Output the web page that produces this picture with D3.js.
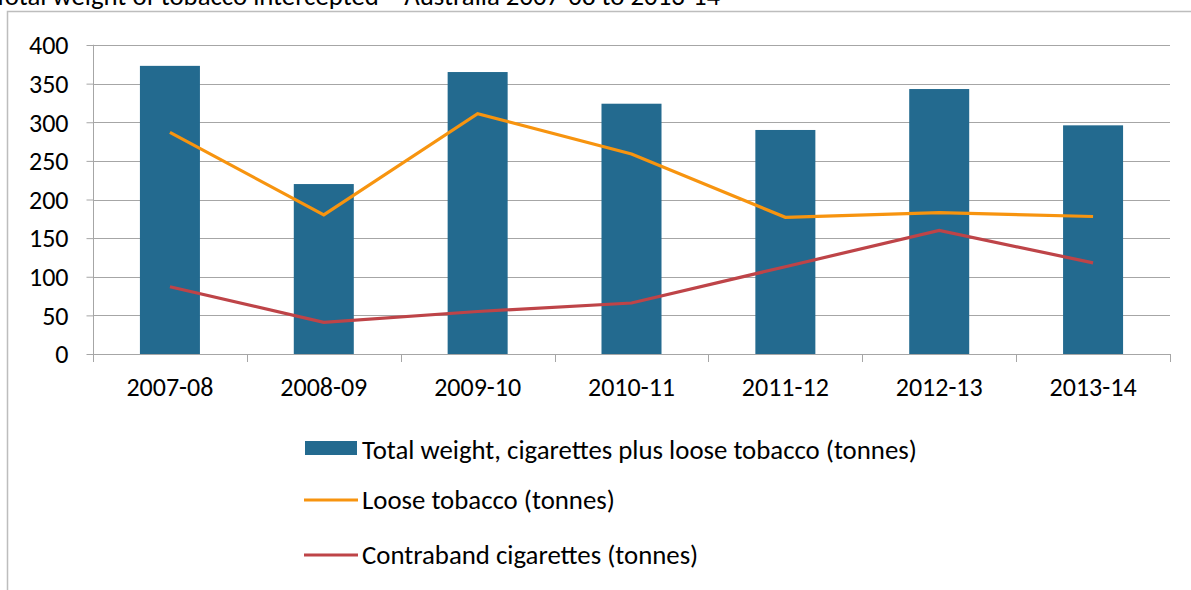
<!DOCTYPE html>
<html><head><meta charset="utf-8">
<script src="https://cdn.jsdelivr.net/npm/d3@7"></script>
<style>body{margin:0;background:#fff;} svg{display:block;} text{font-family:Carlito,"Open Sans","Noto Sans",sans-serif;}</style>
</head><body><svg id="c" width="1191" height="590"></svg>
<script>
const categories = ["2007-08","2008-09","2009-10","2010-11","2011-12","2012-13","2013-14"];
const totalWeight = [373, 220, 365, 324, 290, 343, 296];
const looseTobacco = [287, 180, 311, 259, 177, 183, 178];
const contraband = [87, 41, 55, 66, 113, 160, 118];
const yTicks = [0,50,100,150,200,250,300,350,400];
const seriesNames = ["Total weight, cigarettes plus loose tobacco (tonnes)","Loose tobacco (tonnes)","Contraband cigarettes (tonnes)"];
const colors = {bar:"#236a8f", loose:"#f7940f", contra:"#be4448"};
const FS = 26, FL = 26.8;

const svg = d3.select("#c");
const m = {l:93, r:1170, t:45, b:354};
const x = d3.scaleBand().domain(categories).range([m.l, m.r]).paddingInner(0.61).paddingOuter(0.305);
const xb = d3.scaleBand().domain(categories).range([m.l, m.r]);
const y = d3.scaleLinear().domain([0,400]).range([m.b, m.t]);

// frame
svg.append("path").attr("d",`M7.5,600V11.5H1200`).attr("fill","none").attr("stroke","#bdbdbd").attr("stroke-width",1.5);
// title (clipped by the top edge, as in the reference)
svg.append("text").attr("x",-6).attr("y",5).attr("font-size",FL).attr("fill","#000")
  .text("Total weight of tobacco intercepted – Australia 2007-08 to 2013-14");

// grid
svg.append("g").selectAll("line").data(yTicks.filter(d=>d>0)).join("line")
  .attr("x1",m.l).attr("x2",m.r).attr("y1",d=>Math.round(y(d))+0.5).attr("y2",d=>Math.round(y(d))+0.5)
  .attr("stroke","#a6a6a6").attr("stroke-width",1);

// bars
svg.append("g").selectAll("rect").data(categories).join("rect")
  .attr("x",d=>x(d)).attr("width",x.bandwidth())
  .attr("y",(d,i)=>y(totalWeight[i])).attr("height",(d,i)=>y(0)-y(totalWeight[i]))
  .attr("fill",colors.bar);

// y axis
const ya = svg.append("g").attr("transform",`translate(${m.l+0.5},0)`)
  .call(d3.axisLeft(y).tickValues(yTicks).tickSize(7).tickPadding(18));
ya.attr("font-family",null).attr("font-size",null);
ya.select(".domain").attr("stroke","#a6a6a6").attr("d",`M-0.5,${m.t}H0V${m.b}`);
ya.selectAll(".tick line").attr("stroke","#a6a6a6");
ya.selectAll("text").attr("font-size",FS).attr("fill","#000").attr("dy","0.34em");

// x axis
const xa = svg.append("g").attr("transform",`translate(0,${m.b+0.5})`)
  .call(d3.axisBottom(xb).tickSize(0).tickPadding(41));
xa.attr("font-family",null).attr("font-size",null);
xa.select(".domain").attr("stroke","#a6a6a6").attr("d",`M${m.l},0H${m.r}`);
xa.selectAll("text").attr("font-size",FS).attr("fill","#000").attr("dy","0");
svg.append("g").selectAll("line").data(d3.range(categories.length+1)).join("line")
  .attr("x1",i=>Math.round(m.l+i*xb.step())+0.5).attr("x2",i=>Math.round(m.l+i*xb.step())+0.5)
  .attr("y1",m.b).attr("y2",m.b+8).attr("stroke","#a6a6a6");

// lines
const line = d3.line().x((d,i)=>xb(categories[i])+xb.bandwidth()/2).y(d=>y(d));
svg.append("path").datum(looseTobacco).attr("d",line).attr("fill","none").attr("stroke",colors.loose).attr("stroke-width",3.2);
svg.append("path").datum(contraband).attr("d",line).attr("fill","none").attr("stroke",colors.contra).attr("stroke-width",3.2);

// legend
const lg = svg.append("g");
lg.append("rect").attr("x",305).attr("y",441).attr("width",52).attr("height",14).attr("fill",colors.bar);
lg.append("line").attr("x1",304).attr("x2",358).attr("y1",500).attr("y2",500).attr("stroke",colors.loose).attr("stroke-width",3.2);
lg.append("line").attr("x1",304).attr("x2",358).attr("y1",555).attr("y2",555).attr("stroke",colors.contra).attr("stroke-width",3.2);
[450,500,555].forEach((cy,i)=>{
  lg.append("text").attr("x",362).attr("y",cy).attr("dy","0.34em").attr("font-size",FL).attr("fill","#000").text(seriesNames[i]);
});
</script></body></html>
